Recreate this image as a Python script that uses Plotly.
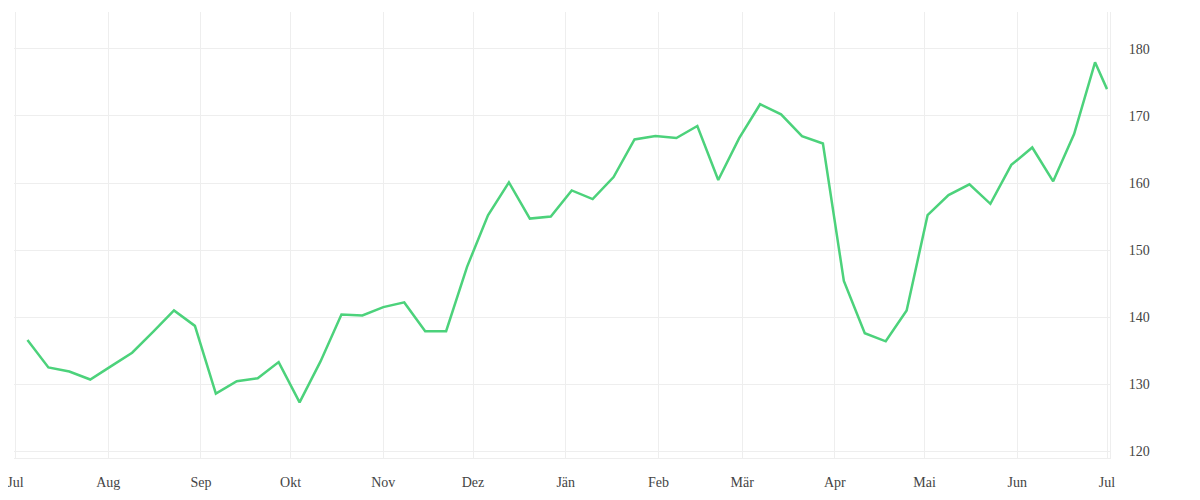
import plotly.graph_objects as go

dates = [
    "2022-07-05", "2022-07-12", "2022-07-19", "2022-07-26",
    "2022-08-02", "2022-08-09", "2022-08-16", "2022-08-23", "2022-08-30",
    "2022-09-06", "2022-09-13", "2022-09-20", "2022-09-27",
    "2022-10-04", "2022-10-11", "2022-10-18", "2022-10-25",
    "2022-11-01", "2022-11-08", "2022-11-15", "2022-11-22", "2022-11-29",
    "2022-12-06", "2022-12-13", "2022-12-20", "2022-12-27",
    "2023-01-03", "2023-01-10", "2023-01-17", "2023-01-24", "2023-01-31",
    "2023-02-07", "2023-02-14", "2023-02-21", "2023-02-28",
    "2023-03-07", "2023-03-14", "2023-03-21", "2023-03-28",
    "2023-04-04", "2023-04-11", "2023-04-18", "2023-04-25",
    "2023-05-02", "2023-05-09", "2023-05-16", "2023-05-23", "2023-05-30",
    "2023-06-06", "2023-06-13", "2023-06-20", "2023-06-27",
    "2023-07-01",
]

values = [
    136.6, 132.5, 131.9, 130.7,
    132.7, 134.7, 137.8, 141.0, 138.7,
    128.6, 130.45, 130.9, 133.3,
    127.3, 133.4, 140.4, 140.25,
    141.5, 142.2, 137.9, 137.9, 147.5,
    155.2, 160.1, 154.7, 155.0,
    158.9, 157.6, 160.9, 166.5, 167.0,
    166.7, 168.5, 160.45, 166.7,
    171.75, 170.25, 167.0, 165.9,
    145.4, 137.6, 136.4, 141.0,
    155.2, 158.2, 159.8, 156.9, 162.7,
    165.3, 160.25, 167.3, 178.0,
    174.0,
]

month_ticks = [
    "2022-07-01", "2022-08-01", "2022-09-01", "2022-10-01", "2022-11-01",
    "2022-12-01", "2023-01-01", "2023-02-01", "2023-03-01", "2023-04-01",
    "2023-05-01", "2023-06-01", "2023-07-01",
]
month_labels = ["Jul", "Aug", "Sep", "Okt", "Nov", "Dez", "Jän", "Feb",
                "Mär", "Apr", "Mai", "Jun", "Jul"]

y_ticks = [120, 130, 140, 150, 160, 170, 180]

fig = go.Figure()
fig.add_trace(go.Scatter(
    x=dates, y=values, mode="lines",
    line=dict(color="#4cd27b", width=2.5),
    hoverinfo="x+y",
))

font = dict(family="Liberation Serif, serif", size=14, color="#444444")

fig.update_layout(
    width=1200, height=500,
    margin=dict(l=6, r=98, t=4, b=50),
    paper_bgcolor="white", plot_bgcolor="white",
    showlegend=False,
    font=font,
    xaxis=dict(
        type="date",
        range=["2022-06-30 12:00", "2023-07-02"],
        tickvals=month_ticks, ticktext=month_labels,
        showgrid=True, gridcolor="#eeeeee", gridwidth=1,
        showline=True, linecolor="#eeeeee", linewidth=1,
        zeroline=False, ticks="",
        ticklabelstandoff=11,
        ticklabeloverflow="allow",
        tickfont=font,
        automargin=False,
    ),
    yaxis=dict(
        side="right",
        range=[119, 185.5],
        tickvals=y_ticks,
        showgrid=True, gridcolor="#eeeeee", gridwidth=1,
        showline=True, linecolor="#eeeeee", linewidth=1,
        zeroline=False, ticks="",
        ticklabelstandoff=15,
        tickfont=font,
        automargin=False,
    ),
)

fig.write_html("out.html")
